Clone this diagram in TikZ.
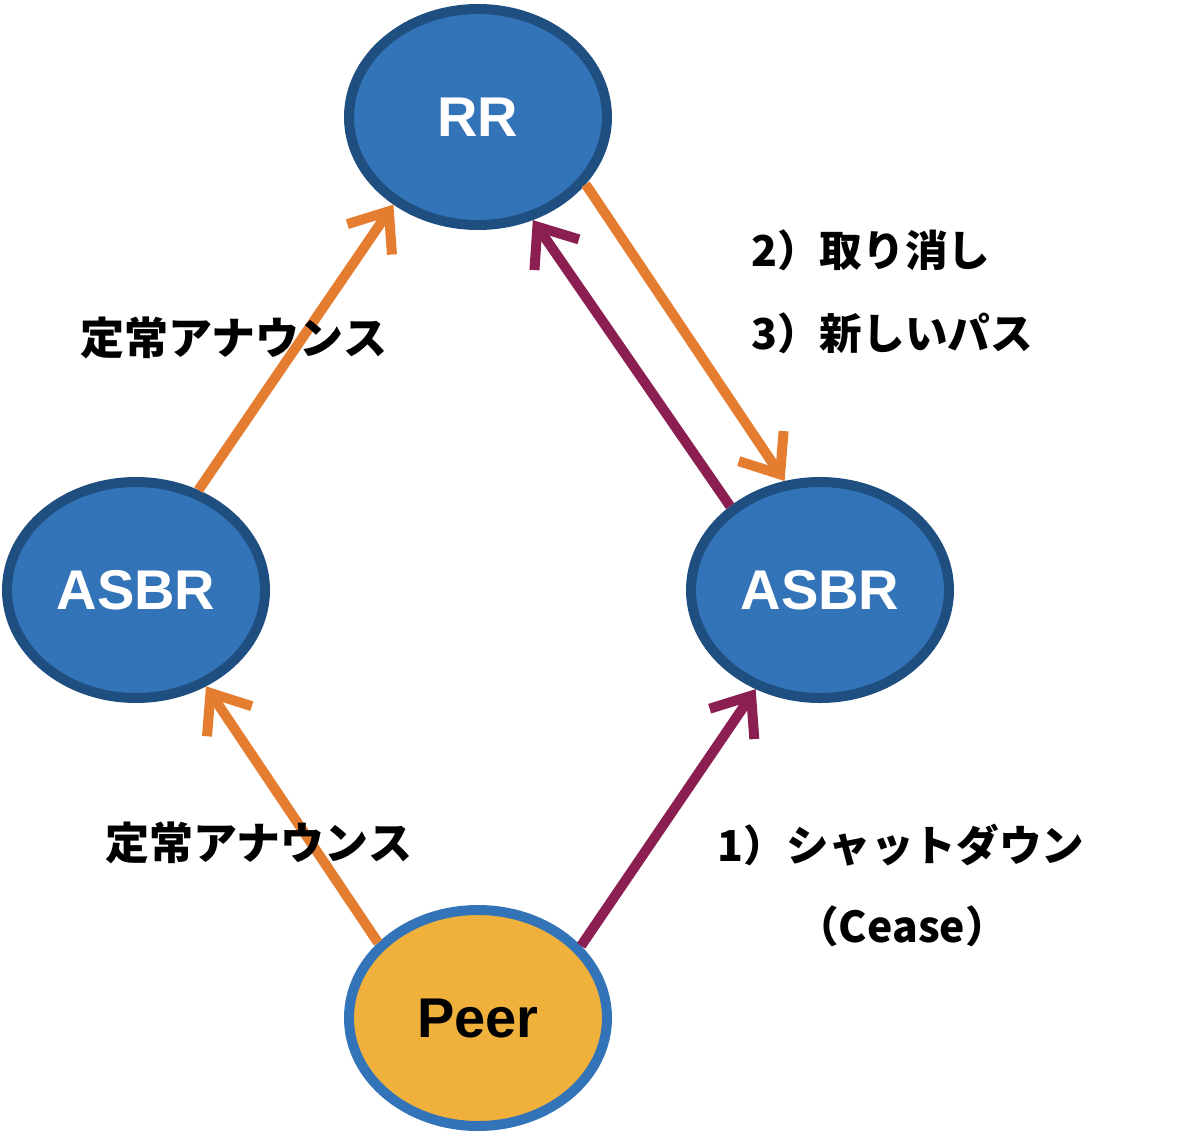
\documentclass[tikz,border=0pt]{standalone}
\usepackage{fontspec}
\setmainfont{Liberation Sans}
\newfontfamily\jpfont{Noto Sans CJK JP}
\usetikzlibrary{shapes.geometric, arrows.meta}
\definecolor{nodeblue}{RGB}{51,116,184}
\definecolor{rimblue}{RGB}{31,78,128}
\definecolor{peerfill}{RGB}{240,176,60}
\definecolor{annorange}{RGB}{229,125,48}
\definecolor{wdpurple}{RGB}{139,31,82}
\tikzset{
    base/.style = {
        ellipse, line width=5pt, minimum width=129pt, minimum height=108pt,
        font=\fontsize{28}{30}\selectfont\bfseries, inner sep=0pt
    },
    % Routers
    router/.style = {base, draw=rimblue, fill=nodeblue, text=white},
    peer/.style   = {base, draw=nodeblue, fill=peerfill, text=black},
    % Updates and labels
    announce/.style = {line width=5pt, annorange, -{Straight Barb[length=17pt, width=27pt]}},
    withdraw/.style = {line width=5pt, wdpurple, -{Straight Barb[length=17pt, width=27pt]}},
    msg/.style  = {font=\jpfont\bfseries\fontsize{22}{24}\selectfont, inner sep=0pt},
    step_msg/.style = {msg, font=\jpfont\bfseries\fontsize{21.3}{24}\selectfont}
}
\begin{document}
\begin{tikzpicture}[x=0.5pt, y=-0.5pt]
    \useasboundingbox (0,0) rectangle (1180,1136);

    % Routers
    \node (rr)    [router] at (478,117) {RR};
    \node (asbrL) [router] at (136,590) {ASBR};
    \node (asbrR) [router] at (820,590) {ASBR};
    \node (peer)  [peer]   at (478,1018) {Peer};

    % --- Connections ---
    \draw [announce] (asbrL.58)  -- (rr.226);
    \draw [announce] (rr.-32)    -- (asbrR.108);
    \draw [withdraw] (asbrR.137) -- (rr.-62);
    \draw [announce] (peer.143)  -- (asbrL.-54);
    \draw [withdraw] (peer.35)   -- (asbrR.-123);

    % Labels (on top of the arrows)
    \node (msgL1) [msg] at (234,338) {定常アナウンス};
    \node (msgL2) [msg] at (259,843) {定常アナウンス};
    \node (msgR1) [step_msg, anchor=west] at (751,250) {2）取り消し};
    \node (msgR2) [step_msg, anchor=west] at (751,333) {3）新しいパス};
    \node (msgR3) [step_msg] at (901,845) {1）シャットダウン};
    \node (msgR4) [step_msg] at (902,926) {（Cease）};

\end{tikzpicture}
\end{document}
